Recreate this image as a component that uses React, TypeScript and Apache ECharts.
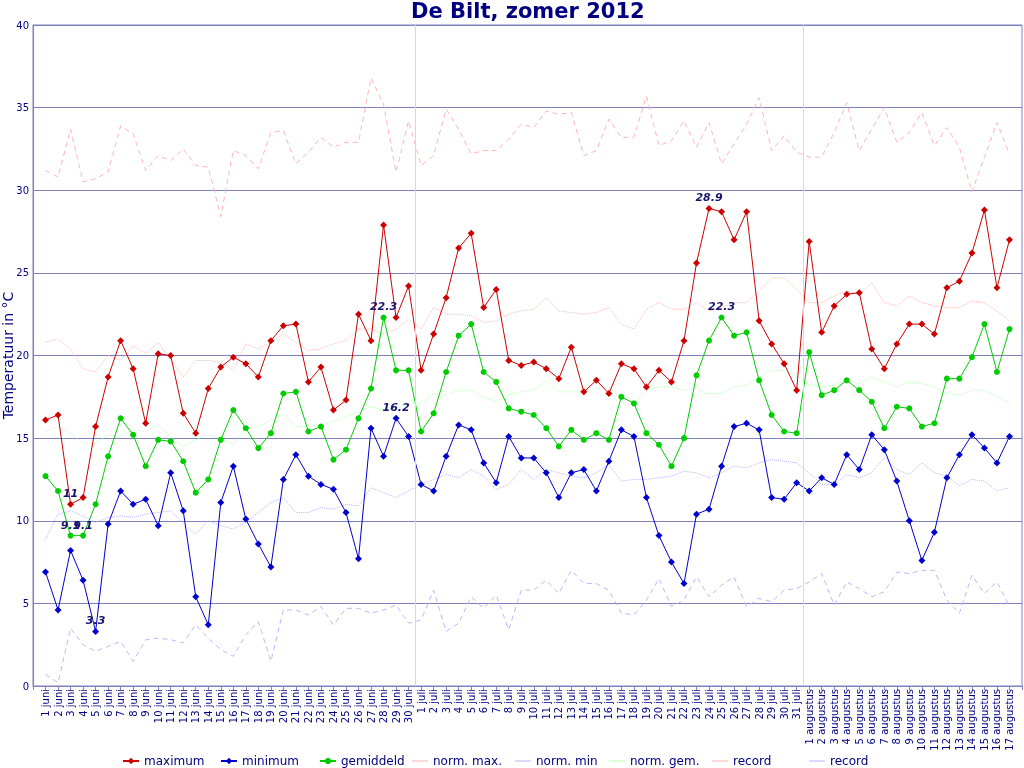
import React, { useEffect, useRef } from 'react';
import * as echarts from 'echarts';

const monthDays: [string, number][] = [['juni', 30], ['juli', 31], ['augustus', 17]];
const categories: string[] = [];
monthDays.forEach(([m, n]) => { for (let d = 1; d <= n; d++) categories.push(d + ' ' + m); });

const maximum = [16.1,16.4,11.0,11.4,15.7,18.7,20.9,19.2,15.9,20.1,20.0,16.5,15.3,18.0,19.3,19.9,19.5,18.7,20.9,21.8,21.9,18.4,19.3,16.7,17.3,22.5,20.9,27.9,22.3,24.2,
  19.1,21.3,23.5,26.5,27.4,22.9,24.0,19.7,19.4,19.6,19.2,18.6,20.5,17.8,18.5,17.7,19.5,19.2,18.1,19.1,18.4,20.9,25.6,28.9,28.7,27.0,28.7,22.1,20.7,19.5,17.9,
  26.9,21.4,23.0,23.7,23.8,20.4,19.2,20.7,21.9,21.9,21.3,24.1,24.5,26.2,28.8,24.1,27.0];
const minimum = [6.9,4.6,8.2,6.4,3.3,9.8,11.8,11.0,11.3,9.7,12.9,10.6,5.4,3.7,11.1,13.3,10.1,8.6,7.2,12.5,14.0,12.7,12.2,11.9,10.5,7.7,15.6,13.9,16.2,15.1,
  12.2,11.8,13.9,15.8,15.5,13.5,12.3,15.1,13.8,13.8,12.9,11.4,12.9,13.1,11.8,13.6,15.5,15.1,11.4,9.1,7.5,6.2,10.4,10.7,13.3,15.7,15.9,15.5,11.4,11.3,12.3,
  11.8,12.6,12.2,14.0,13.1,15.2,14.3,12.4,10.0,7.6,9.3,12.6,14.0,15.2,14.4,13.5,15.1];
const gemiddeld = [12.7,11.8,9.1,9.1,11.0,13.9,16.2,15.2,13.3,14.9,14.8,13.6,11.7,12.5,14.9,16.7,15.6,14.4,15.3,17.7,17.8,15.4,15.7,13.7,14.3,16.2,18.0,22.3,19.1,19.1,
  15.4,16.5,19.0,21.2,21.9,19.0,18.4,16.8,16.6,16.4,15.6,14.5,15.5,14.9,15.3,14.9,17.5,17.1,15.3,14.6,13.3,15.0,18.8,20.9,22.3,21.2,21.4,18.5,16.4,15.4,15.3,
  20.2,17.6,17.9,18.5,17.9,17.2,15.6,16.9,16.8,15.7,15.9,18.6,18.6,19.9,21.9,19.0,21.6];
const normMax = [20.8,21.0,20.4,19.2,19.0,20.0,19.7,20.6,20.1,20.8,19.7,18.7,19.7,19.7,19.6,19.1,20.7,20.4,20.8,21.3,20.8,20.3,20.4,20.7,20.9,21.6,21.6,
  21.3,21.6,22.2,21.6,22.9,22.5,22.5,22.4,22.0,22.1,22.5,22.7,22.8,23.5,22.7,22.6,22.5,22.6,22.9,21.9,21.6,22.8,23.2,22.8,22.8,23.2,
  22.7,22.9,23.2,23.2,23.9,24.7,24.7,24.0,23.2,23.2,23.6,23.9,23.7,24.4,23.2,23.0,23.6,23.2,23.0,22.9,22.9,23.3,23.2,22.7,22.1];
const normMin = [8.9,10.4,10.6,10.3,9.9,10.2,10.3,10.2,10.4,10.5,10.6,9.8,9.2,10.0,9.7,9.5,9.9,10.5,11.1,11.4,10.5,10.5,10.8,10.7,11.0,10.9,12.0,
  11.7,11.4,11.8,12.2,12.5,12.8,12.6,13.1,12.7,11.9,12.2,13.1,12.5,13.1,12.9,12.7,12.6,12.9,13.4,12.4,12.5,12.5,12.6,12.7,13.0,12.9,
  12.6,12.9,13.3,13.2,13.5,13.7,13.6,13.5,12.9,12.2,12.2,12.8,12.6,12.9,13.8,13.1,12.8,13.5,12.9,12.7,12.1,12.5,12.4,11.8,12.0];
const normGem = [15.4,15.7,15.3,14.7,14.7,15.2,15.1,15.5,15.4,15.8,15.1,14.5,14.9,15.2,15.0,14.6,15.6,15.7,16.1,16.5,15.7,15.7,15.8,16.0,16.3,16.6,16.9,
  16.7,16.8,17.1,17.1,17.7,17.6,17.9,17.9,17.5,17.2,17.6,17.8,17.9,18.5,17.8,17.8,17.8,18.0,18.1,17.5,17.1,17.9,18.1,18.1,17.9,18.0,
  17.7,17.7,18.1,18.2,18.7,19.1,19.1,18.8,18.2,18.1,18.2,18.5,18.3,18.7,18.4,18.1,18.4,18.3,18.1,17.7,17.6,17.9,17.9,17.5,17.1];
const recordMax = [31.2,30.8,33.7,30.5,30.7,31.1,33.9,33.4,31.2,32.1,31.8,32.5,31.5,31.4,28.4,32.4,32.1,31.3,33.5,33.6,31.6,32.3,33.2,32.6,32.9,32.9,36.8,35.2,31.1,34.2,31.5,32.1,34.9,33.7,32.2,32.4,32.4,33.1,34.0,
  33.8,34.8,34.6,34.7,32.1,32.4,34.3,33.2,33.2,35.7,32.7,33.0,34.2,32.6,34.1,31.6,32.8,34.0,35.6,32.4,33.3,32.3,32.0,32.0,33.5,35.3,32.4,33.7,35.0,32.9,33.5,34.7,32.7,33.8,32.6,29.9,32.0,34.1,32.2];
const recordMin = [0.7,0.2,3.5,2.5,2.1,2.4,2.7,1.5,2.8,2.9,2.8,2.6,3.7,2.9,2.2,1.8,3.1,3.9,1.5,4.6,4.6,4.3,4.8,3.7,4.7,4.7,4.4,4.6,4.9,3.8,4.0,5.8,3.3,3.8,5.4,4.7,5.5,3.4,5.8,
  5.8,6.4,5.6,7.0,6.2,6.2,5.8,4.4,4.3,5.2,6.5,4.8,5.2,6.6,5.4,6.1,6.6,4.8,5.3,5.1,5.8,5.9,6.3,6.8,4.9,6.3,5.9,5.4,5.7,6.9,6.8,7.0,7.0,5.2,4.4,6.7,5.6,6.3,4.8];
const yTicks = [0, 5, 10, 15, 20, 25, 30, 35, 40];
const monthSeparators = [29.5, 60.5];

const NAVY = '#000080';
const GRID = '#8080c0';
const LINE_ICON = 'path://M0,0h0.01v0.01h-0.01z M0,3.5h16v1h-16z M15.99,7.99h0.01v0.01h-0.01z';

const pairs = (arr: number[]) => arr.map((v, i) => [i, v]);

function mainSeries(name: string, data: number[], color: string, symbol: string, size: number) {
  const mx = Math.max(...data);
  const mn = Math.min(...data);
  return {
    name, type: 'line', data: pairs(data), symbol, symbolSize: size, z: 4,
    lineStyle: { color, width: 1 }, itemStyle: { color },
    label: {
      show: true, position: 'top', distance: 2,
      color: '#14146e', fontSize: 11, fontWeight: 'bold', fontStyle: 'italic',
      formatter: (p: any) => { const v = p.value[1]; return v === mx || v === mn ? String(v) : ''; },
    },
  };
}

function refSeries(name: string, data: number[], color: string, type: any, extra: any = {}) {
  return { name, type: 'line', data: pairs(data), symbol: 'none', z: 2, lineStyle: { color, width: 1, type }, itemStyle: { color }, ...extra };
}

export default function App() {
  const ref = useRef<HTMLDivElement>(null);
  useEffect(() => {
    if (!ref.current) return;
    const chart = echarts.init(ref.current, undefined, { renderer: 'svg' });
    const legendDefs: [string, number, boolean, string?][] = [
      ['maximum', 122, true], ['minimum', 220, true], ['gemiddeld', 319, true], ['norm. max.', 412, false],
      ['norm. min', 515, false], ['norm. gem.', 609, false], ['record max', 712, false, 'record'], ['record min', 809, false, 'record'],
    ];
    chart.setOption({
      animation: false,
      textStyle: { fontFamily: 'DejaVu Sans' },
      title: { text: 'De Bilt, zomer 2012', left: 411, top: 0, padding: 0, textStyle: { fontSize: 21, fontWeight: 'bold', color: NAVY, fontFamily: 'DejaVu Sans' } },
      legend: legendDefs.map(([name, left, main, label]) => ({
        left, top: 755, padding: 0, itemWidth: 16, itemHeight: 8, itemGap: 0,
        icon: main ? undefined : LINE_ICON,
        data: [name], formatter: label ? label : '{name}',
        textStyle: { color: NAVY, fontSize: 12, fontFamily: 'DejaVu Sans' },
      })),
      grid: { left: 33, right: 2, top: 25, bottom: 82, show: true, borderColor: GRID, borderWidth: 1, outerBoundsMode: 'none', containLabel: false },
      xAxis: {
        type: 'value', min: -1, max: 78, interval: 1,
        axisLine: { show: true, onZero: false, lineStyle: { color: GRID } },
        axisTick: { show: true, length: 4, lineStyle: { color: GRID } },
        splitLine: { show: false },
        axisLabel: {
          rotate: 90, fontSize: 10, color: NAVY, margin: 3,
          formatter: (v: number) => categories[Math.round(v)] ?? '',
        },
      },
      yAxis: {
        type: 'value', min: yTicks[0], max: yTicks[yTicks.length - 1], interval: 5,
        name: 'Temperatuur in °C', nameLocation: 'middle', nameGap: 18, nameMoveOverlap: false,
        nameTextStyle: { color: NAVY, fontSize: 14 },
        axisLine: { show: true, onZero: false, lineStyle: { color: GRID } },
        axisTick: { show: false },
        axisLabel: { color: NAVY, fontSize: 10, margin: 4 },
        splitLine: { show: true, lineStyle: { color: GRID, width: 1 } },
      },
      series: [
        mainSeries('maximum', maximum, '#cc0000', 'diamond', 7),
        mainSeries('minimum', minimum, '#0000cc', 'diamond', 7),
        mainSeries('gemiddeld', gemiddeld, '#00cc00', 'circle', 6),
        refSeries('norm. max.', normMax, '#ffb4b4', 'dotted', {
          markLine: {
            silent: true, symbol: 'none', label: { show: false },
            lineStyle: { color: '#d8d8d8', width: 1, type: 'solid' },
            data: monthSeparators.map((x) => ({ xAxis: x })),
          },
        }),
        refSeries('norm. min', normMin, '#b4b4ff', 'dotted'),
        refSeries('norm. gem.', normGem, '#b4ffb4', 'dotted'),
        refSeries('record max', recordMax, '#ffb4b4', [5, 4]),
        refSeries('record min', recordMin, '#b8b8ff', [5, 4]),
      ],
    });
    return () => chart.dispose();
  }, []);
  return <div ref={ref} style={{ position: 'fixed', left: 0, top: 0, width: 1024, height: 768 }} />;
}
